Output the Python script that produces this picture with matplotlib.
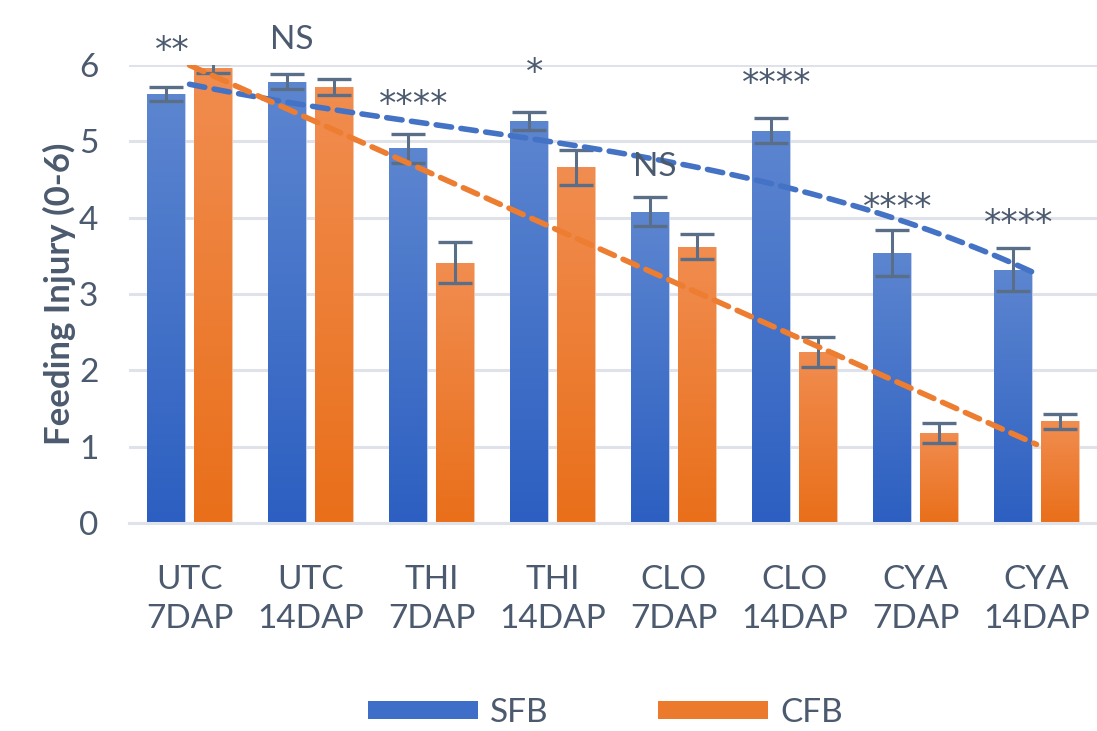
"""Feeding injury bar chart (SFB vs CFB) with trend lines and significance marks."""

import matplotlib

matplotlib.use("Agg")

import matplotlib.pyplot as plt
import numpy as np
from matplotlib.colors import LinearSegmentedColormap
from matplotlib.patches import Patch

plt.rcParams["font.family"] = ["Lato", "DejaVu Sans"]

categories = ["UTC\n7DAP", "UTC\n14DAP", "THI\n7DAP", "THI\n14DAP",
              "CLO\n7DAP", "CLO\n14DAP", "CYA\n7DAP", "CYA\n14DAP"]
sfb = [5.62, 5.78, 4.91, 5.27, 4.08, 5.14, 3.54, 3.32]
sfb_err = [0.09, 0.10, 0.19, 0.12, 0.19, 0.16, 0.30, 0.28]
cfb = [5.96, 5.71, 3.41, 4.66, 3.62, 2.24, 1.18, 1.33]
cfb_err = [0.06, 0.10, 0.27, 0.23, 0.16, 0.20, 0.13, 0.10]
# SFB trend line as drawn in the source
sfb_trend = [5.75, 5.46, 5.22, 5.00, 4.71, 4.39, 3.88, 3.27]
sig_labels = ["**", "NS", "****", "*", "NS", "****", "****", "****"]
sig_y = [6.18, 6.33, 5.47, 5.90, 4.67, 5.75, 4.13, 3.92]

TEXT = "#4b5a6e"
BLUE_TOP, BLUE_BOT = "#5d86d0", "#2c5fc1"
ORANGE_TOP, ORANGE_BOT = "#f18d50", "#e96f1a"

fig = plt.figure(figsize=(10.97, 7.31), dpi=100)
ax = fig.add_axes([0.1176, 0.2845, 0.8824, 0.6266])

x = np.arange(len(categories))
w = 0.314
off = 0.194


def gradient_bars(xpos, vals, top, bot, edge):
    bars = ax.bar(xpos, vals, w, color=bot, edgecolor=edge, linewidth=0.6, zorder=2)
    cmap = LinearSegmentedColormap.from_list("g", [bot, top])
    grad = np.linspace(1, 0, 256).reshape(-1, 1)
    for b in bars:
        x0, y0 = b.get_x(), b.get_y()
        im = ax.imshow(grad, cmap=cmap, aspect="auto", zorder=2.1,
                       extent=[x0, x0 + b.get_width(), y0, y0 + b.get_height()])
        im.set_clip_path(b)
    return bars


gradient_bars(x - off, sfb, BLUE_TOP, BLUE_BOT, "#c9d6ee")
gradient_bars(x + off, cfb, ORANGE_TOP, ORANGE_BOT, "#f6c7a6")

ekw = dict(fmt="none", ecolor="#5b6e87", elinewidth=2.2, capsize=12, capthick=2.4, zorder=4)
ax.errorbar(x - off, sfb, yerr=sfb_err, **ekw)
ax.errorbar(x + off, cfb, yerr=cfb_err, **ekw)

# trend lines
xs = np.linspace(0, len(categories) - 1, 200)
ax.plot(xs, np.polyval(np.polyfit(x, sfb_trend, 3), xs), color="#4472c4",
        lw=4.0, dashes=(2.8, 1.7), zorder=5, dash_capstyle="round")
ax.plot(xs, np.polyval(np.polyfit(x, cfb, 1), xs), color="#ed7d31",
        lw=4.0, dashes=(2.8, 1.7), zorder=5, dash_capstyle="round")

for xi, lab, yy in zip(x - off, sig_labels, sig_y):
    if lab == "NS":
        ax.text(xi + 0.04, yy, lab, ha="center", va="center", fontsize=24,
                color=TEXT, zorder=6, clip_on=False)
    else:
        ax.text(xi + 0.05, yy, lab, ha="center", va="center", fontsize=25,
                family="DejaVu Sans", color=TEXT, zorder=6, clip_on=False)

ax.set_xlim(-0.5, len(categories) - 0.5)
ax.set_ylim(0, 6)
ax.set_yticks(range(7))
ax.yaxis.grid(True, color="#dfe3e9", lw=2.2, zorder=0)
ax.set_axisbelow(True)
for s in ["top", "right", "left"]:
    ax.spines[s].set_visible(False)
ax.spines["bottom"].set_color("#dfe3e9")
ax.spines["bottom"].set_linewidth(2.2)
ax.set_xticks(x)
ax.set_xticklabels(categories, linespacing=1.4)
ax.tick_params(axis="both", length=0, labelsize=24, labelcolor=TEXT)
ax.tick_params(axis="x", pad=30)
ax.tick_params(axis="y", pad=22)
ax.set_ylabel("Feeding Injury (0-6)", fontsize=25, fontweight="bold", color=TEXT, labelpad=2)

handles = [Patch(facecolor="#3f6ec8", edgecolor="none"), Patch(facecolor="#ec7a2c", edgecolor="none")]
fig.legend(handles, ["SFB", "CFB"], loc="center", bbox_to_anchor=(0.552, 0.025), ncol=2,
           frameon=False, fontsize=24, labelcolor=TEXT, handlelength=3.3, handleheight=0.45,
           handletextpad=0.35, columnspacing=3.3)

fig.savefig("out.png", dpi=100)
